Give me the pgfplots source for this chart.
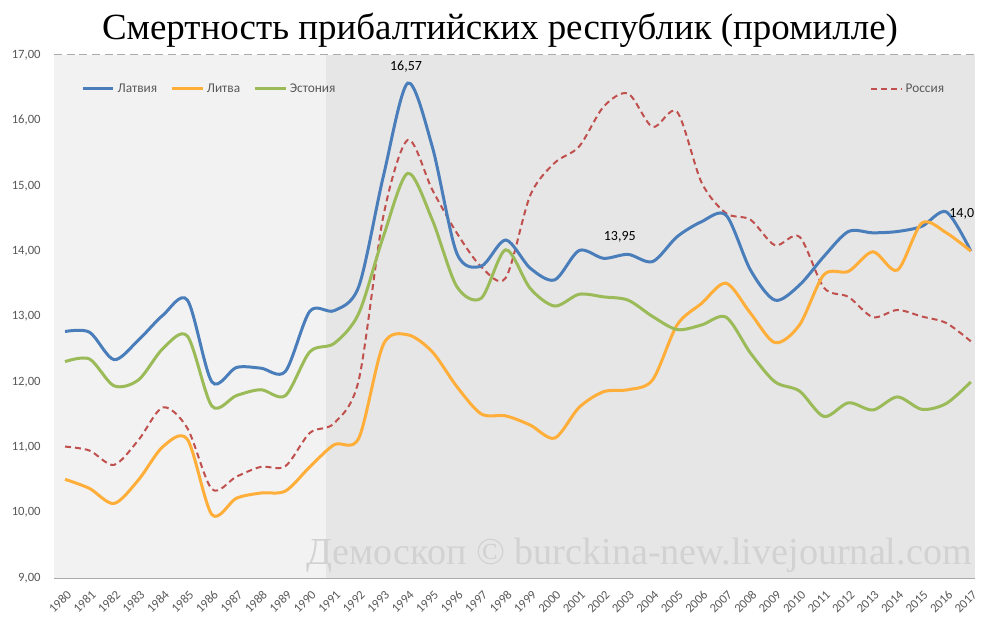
\documentclass[border=0pt]{standalone}
\usepackage{fontspec}
\setmainfont{Carlito}
\newfontfamily\serifw{Liberation Serif}
\usepackage{pgfplots}
\usepackage{pgfplotstable}
\pgfplotsset{compat=1.18}
\definecolor{latv}{RGB}{74,126,187}
\definecolor{litv}{RGB}{255,174,57}
\definecolor{eston}{RGB}{155,187,89}
\definecolor{rus}{RGB}{192,80,77}
\definecolor{labgray}{RGB}{89,89,89}
\definecolor{bglight}{RGB}{242,242,242}
\definecolor{bgdark}{RGB}{230,230,230}
\definecolor{gridgray}{RGB}{170,170,170}
\definecolor{wmgray}{RGB}{210,210,210}

\pgfplotstableread{
year lat lit est rus
1980 12.77 10.51 12.31 11.01
1981 12.76 10.37 12.35 10.95
1982 12.34 10.14 11.94 10.73
1983 12.64 10.50 12.03 11.11
1984 13.02 11.01 12.51 11.61
1985 13.25 11.12 12.70 11.29
1986 12.00 9.97 11.63 10.36
1987 12.22 10.22 11.79 10.55
1988 12.21 10.30 11.88 10.70
1989 12.16 10.33 11.79 10.71
1990 13.08 10.70 12.46 11.22
1991 13.09 11.04 12.59 11.37
1992 13.46 11.14 13.05 12.03
1993 15.14 12.57 14.22 14.53
1994 16.57 12.72 15.19 15.70
1995 15.60 12.46 14.48 14.94
1996 13.97 11.93 13.46 14.28
1997 13.77 11.51 13.28 13.76
1998 14.17 11.48 14.02 13.59
1999 13.74 11.34 13.43 14.85
2000 13.56 11.14 13.16 15.35
2001 14.01 11.61 13.34 15.60
2002 13.89 11.85 13.30 16.21
2003 13.95 11.88 13.25 16.41
2004 13.84 12.03 13.00 15.90
2005 14.22 12.87 12.80 16.13
2006 14.45 13.20 12.87 15.05
2007 14.55 13.51 12.99 14.58
2008 13.71 13.05 12.44 14.48
2009 13.25 12.60 12.00 14.09
2010 13.48 12.87 11.86 14.22
2011 13.92 13.64 11.47 13.44
2012 14.30 13.69 11.68 13.30
2013 14.28 13.99 11.57 12.99
2014 14.30 13.71 11.77 13.10
2015 14.38 14.43 11.58 13.00
2016 14.60 14.28 11.67 12.90
2017 14.00 14.00 12.00 12.62
}\datatable

\pgfplotsset{
  commonaxis/.style={
    at={(0,0)}, anchor=south west,
    scale only axis, width=690.75pt, height=392.25pt,
    xmin=1979.55, xmax=2017.17, ymin=9, ymax=17,
  },
  legimg/.style={legend image code/.code={\draw[##1] (0pt,0pt) -- (23pt,0pt);}},
}

\begin{document}
\begin{tikzpicture}

\begin{axis}[
  commonaxis,
  set layers,
  ytick={9,...,17}, xtick={1980,...,2017},
  ymajorgrids,
  grid style={dash pattern=on 6pt off 3.5pt, color=gridgray, line width=0.75pt},
  major tick length=0pt,
  axis lines*=left,
  y axis line style={draw=none},
  x axis line style={color=gridgray, line width=1.5pt},
  /pgf/number format/assume math mode=true,
  yticklabel style={/pgf/number format/fixed, /pgf/number format/fixed zerofill,
    /pgf/number format/precision=2, /pgf/number format/use comma,
    font=\fontsize{9.5}{10}\selectfont, text=labgray, xshift=-6.5pt},
  xticklabel style={/pgf/number format/1000 sep={}, rotate=45, anchor=east,
    inner sep=0pt, font=\fontsize{9.5}{10}\selectfont, text=labgray, xshift=-5.5pt, yshift=-10pt},
  legimg,
  legend style={at={(0.974,0.935)}, anchor=east, draw=none, fill=none,
    font=\fontsize{10}{11}\selectfont, text=labgray},
]
\fill[bglight, on layer=axis background] (axis cs:1979.55,9) rectangle (axis cs:1990.66,17);
\fill[bgdark, on layer=axis background] (axis cs:1990.66,9) rectangle (axis cs:2017.17,17);
\node[anchor=base, font=\serifw\fontsize{28.6}{30}\selectfont, text=wmgray]
  at (rel axis cs:0.635,0.025) {Демоскоп © burckina-new.livejournal.com};
\addplot[rus, line width=1.5pt, dash pattern=on 4.5pt off 3pt, smooth] table[x=year,y=rus] {\datatable};
\addlegendentry{Россия}
\end{axis}

\begin{axis}[
  commonaxis,
  hide axis,
  legimg,
  legend columns=3,
  legend style={at={(0.025,0.935)}, anchor=west, draw=none, fill=none,
    font=\fontsize{10}{11}\selectfont, text=labgray,
    /tikz/every even column/.append style={column sep=8pt}},
]
\addplot[latv, line width=2.25pt, smooth] table[x=year,y=lat] {\datatable};
\addlegendentry{Латвия}
\addplot[litv, line width=2.25pt, smooth] table[x=year,y=lit] {\datatable};
\addlegendentry{Литва}
\addplot[eston, line width=2.25pt, smooth] table[x=year,y=est] {\datatable};
\addlegendentry{Эстония}
\node[font=\fontsize{10.5}{12}\selectfont] at (axis cs:1993.93,16.82) {16,57};
\node[font=\fontsize{10.5}{12}\selectfont] at (axis cs:2002.66,14.22) {13,95};
\node[font=\fontsize{10.5}{12}\selectfont] at (axis cs:2016.63,14.57) {14,0};
\end{axis}

\node[font=\serifw\fontsize{27.7}{32}\selectfont] at (334.5pt,411pt)
  {Смертность прибалтийских республик (промилле)};
\pgfresetboundingbox
\path (-40.5pt,-38.25pt) rectangle (709.5pt,433.5pt);
\end{tikzpicture}
\end{document}
